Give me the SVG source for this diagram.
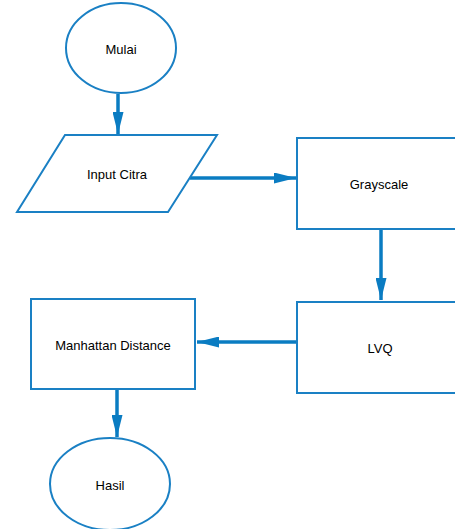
<svg xmlns="http://www.w3.org/2000/svg" width="455" height="529" viewBox="0 0 455 529">
  <style>
    .shape { fill: #ffffff; stroke: #1a80c4; stroke-width: 2; }
    .conn { fill: none; stroke: #0a7cc2; stroke-width: 3.5; }
    .label { font-family: "Liberation Sans", Arial, sans-serif; font-size: 13px; fill: #000000; text-anchor: middle; dominant-baseline: central; }
  </style>
  <defs>
    <marker id="arrow" markerUnits="userSpaceOnUse" markerWidth="22" markerHeight="11" refX="22" refY="5.5" orient="auto">
      <path d="M0,0 L22,5.5 L0,11 z" fill="#0a7cc2"/>
    </marker>
  </defs>
  <rect width="455" height="529" fill="#ffffff"/>
  <g id="connectors">
    <line class="conn" x1="118" y1="94" x2="118" y2="134" marker-end="url(#arrow)"/>
    <line class="conn" x1="190" y1="178" x2="296" y2="178" marker-end="url(#arrow)"/>
    <line class="conn" x1="381" y1="230" x2="381" y2="300" marker-end="url(#arrow)"/>
    <line class="conn" x1="297" y1="342" x2="197" y2="342" marker-end="url(#arrow)"/>
    <line class="conn" x1="117" y1="390" x2="117" y2="437" marker-end="url(#arrow)"/>
  </g>
  <g id="mulai">
    <ellipse class="shape" cx="121" cy="48" rx="55" ry="45"/>
    <text class="label" x="121" y="49">Mulai</text>
  </g>
  <g id="input-citra">
    <polygon class="shape" points="65,135 217,135 168,212 17,212"/>
    <text class="label" x="117" y="174">Input Citra</text>
  </g>
  <g id="grayscale">
    <rect class="shape" x="297" y="138" width="166" height="91"/>
    <text class="label" x="379" y="184">Grayscale</text>
  </g>
  <g id="lvq">
    <rect class="shape" x="297" y="302" width="166" height="91"/>
    <text class="label" x="380" y="348">LVQ</text>
  </g>
  <g id="manhattan-distance">
    <rect class="shape" x="31" y="299" width="164" height="90"/>
    <text class="label" x="113" y="345">Manhattan Distance</text>
  </g>
  <g id="hasil">
    <ellipse class="shape" cx="110" cy="484" rx="60" ry="46"/>
    <text class="label" x="110" y="485">Hasil</text>
  </g>
</svg>
